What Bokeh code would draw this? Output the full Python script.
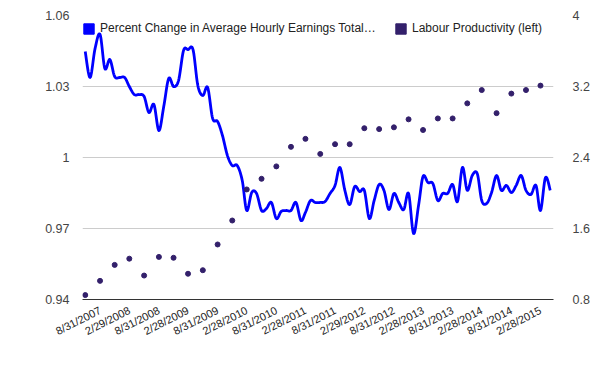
import numpy as np
import pandas as pd
from bokeh.plotting import figure
from bokeh.models import (Range1d, LinearAxis, FixedTicker, Legend, LegendItem,
                          ColumnDataSource)
from bokeh.embed import file_html
from bokeh.resources import INLINE

# ---------------- data ----------------
series_names = ["Percent Change in Average Hourly Earnings Total\u2026",
                "Labour Productivity (left)"]

earnings_start = "2007-05-31"          # monthly, month-end
earnings_change = [
    1.0448, 1.0338, 1.0460, 1.0520, 1.0376, 1.0414, 1.0342, 1.0338, 1.0338, 1.0300,
    1.0266, 1.0266, 1.0258, 1.0190, 1.0224, 1.0114, 1.0215, 1.0334, 1.0300, 1.0325,
    1.0452, 1.0456, 1.0456, 1.0304, 1.0262, 1.0296, 1.0165, 1.0152, 1.0093, 1.0008,
    0.9966, 0.9966, 0.9903, 0.9776, 0.9852, 0.9848, 0.9776, 0.9784, 0.9810, 0.9742,
    0.9772, 0.9776, 0.9776, 0.9810, 0.9734, 0.9768, 0.9818, 0.9810, 0.9810, 0.9814,
    0.9848, 0.9882, 0.9958, 0.9861, 0.9801, 0.9877, 0.9856, 0.9861, 0.9742, 0.9818,
    0.9886, 0.9861, 0.9780, 0.9848, 0.9810, 0.9780, 0.9848, 0.9679, 0.9797, 0.9920,
    0.9894, 0.9890, 0.9818, 0.9848, 0.9848, 0.9886, 0.9814, 0.9958, 0.9861, 0.9924,
    0.9932, 0.9818, 0.9806, 0.9852, 0.9924, 0.9861, 0.9882, 0.9852, 0.9882, 0.9924,
    0.9861, 0.9844, 0.9882, 0.9776, 0.9915, 0.9861,
]

productivity_start = "2007-05-31"      # quarterly, quarter-end
labour_productivity = [
    0.85, 1.01, 1.19, 1.26, 1.07, 1.28, 1.27, 1.09, 1.13, 1.42,
    1.69, 2.04, 2.16, 2.30, 2.52, 2.61, 2.44, 2.55, 2.55, 2.73,
    2.72, 2.74, 2.83, 2.71, 2.84, 2.84, 3.01, 3.16, 2.90, 3.12,
    3.16, 3.21,
]

x_tick_labels = ["8/31/2007", "2/29/2008", "8/31/2008", "2/28/2009", "8/31/2009",
                 "2/28/2010", "8/31/2010", "2/28/2011", "8/31/2011", "2/29/2012",
                 "8/31/2012", "2/28/2013", "8/31/2013", "2/28/2014", "8/31/2014",
                 "2/28/2015"]
left_ticks = [0.94, 0.97, 1.0, 1.03, 1.06]
left_tick_labels = ["0.94", "0.97", "1", "1.03", "1.06"]
right_ticks = [0.8, 1.6, 2.4, 3.2, 4.0]
right_tick_labels = ["0.8", "1.6", "2.4", "3.2", "4"]

x_start, x_end = "2007-05-14", "2015-05-20"

# ---------------- helpers ----------------
def to_ms(d):
    return (pd.DatetimeIndex(d).values.astype("datetime64[ms]").astype(np.int64)).astype(float)

def catmull_rom(xs, ys, n=12):
    xs = np.asarray(xs, float); ys = np.asarray(ys, float)
    px = np.concatenate([[xs[0]], xs, [xs[-1]]])
    py = np.concatenate([[ys[0]], ys, [ys[-1]]])
    t = np.linspace(0, 1, n, endpoint=False)
    ox, oy = [], []
    for i in range(1, len(px) - 2):
        for arr, out in ((px, ox), (py, oy)):
            p0, p1, p2, p3 = arr[i - 1], arr[i], arr[i + 1], arr[i + 2]
            out.extend(0.5 * (2 * p1 + (-p0 + p2) * t
                              + (2 * p0 - 5 * p1 + 4 * p2 - p3) * t ** 2
                              + (-p0 + 3 * p1 - 3 * p2 + p3) * t ** 3))
    ox.append(xs[-1]); oy.append(ys[-1])
    return np.array(ox), np.array(oy)

line_dates = pd.date_range(earnings_start, periods=len(earnings_change), freq=pd.offsets.MonthEnd())
dot_dates = pd.date_range(productivity_start, periods=len(labour_productivity), freq=pd.offsets.MonthEnd(3))
line_x = to_ms(line_dates)
dot_x = to_ms(dot_dates)
sx, sy = catmull_rom(line_x, earnings_change)
tick_x = to_ms(pd.to_datetime(x_tick_labels, format="%m/%d/%Y"))

FONT = "Liberation Sans"
BLUE = "#0000ff"
PURPLE = "#33206b"

p = figure(width=600, height=371, output_backend="svg", toolbar_location=None,
           x_range=Range1d(to_ms([x_start])[0], to_ms([x_end])[0]),
           y_range=Range1d(left_ticks[0], left_ticks[-1]),
           min_border_left=82, min_border_right=47, min_border_top=15, min_border_bottom=72)
p.outline_line_color = None
p.background_fill_color = "white"
p.border_fill_color = "white"
p.extra_y_ranges = {"right": Range1d(right_ticks[0], right_ticks[-1])}

p.xgrid.visible = False
p.ygrid.ticker = FixedTicker(ticks=left_ticks)
p.ygrid.grid_line_color = "#cccccc"
p.ygrid.grid_line_width = 1

# x axis
xa = p.xaxis[0]
xa.ticker = FixedTicker(ticks=list(tick_x))
xa.major_label_overrides = {float(k): v for k, v in zip(tick_x, x_tick_labels)}
xa.major_label_orientation = 0.47
xa.axis_line_color = "#333333"
xa.major_tick_line_color = None
xa.minor_tick_line_color = None
xa.major_label_text_font = FONT
xa.major_label_text_font_size = "11px"
xa.major_label_text_color = "#222222"
xa.major_label_standoff = 4

# left axis
ya = p.yaxis[0]
ya.ticker = FixedTicker(ticks=left_ticks)
ya.major_label_overrides = {float(k): v for k, v in zip(left_ticks, left_tick_labels)}
ya.axis_line_color = None
ya.major_tick_line_color = None
ya.minor_tick_line_color = None
ya.major_label_text_font = FONT
ya.major_label_text_font_size = "12.5px"
ya.major_label_text_color = "#444444"
ya.major_label_standoff = 7

# right axis
ra = LinearAxis(y_range_name="right", ticker=FixedTicker(ticks=right_ticks))
ra.major_label_overrides = {float(k): v for k, v in zip(right_ticks, right_tick_labels)}
ra.axis_line_color = None
ra.major_tick_line_color = None
ra.minor_tick_line_color = None
ra.major_label_text_font = FONT
ra.major_label_text_font_size = "12.5px"
ra.major_label_text_color = "#444444"
ra.major_label_standoff = 13
p.add_layout(ra, "right")

# series
p.line(sx, sy, line_color=BLUE, line_width=2.8, line_join="round")
p.scatter(dot_x, labour_productivity, y_range_name="right", size=5,
          fill_color=PURPLE, line_color=PURPLE)

# legend (square swatches; renderers hold no visible marks)
blank = dict(left=[np.nan], right=[np.nan], top=[np.nan], bottom=[np.nan])
sw1 = p.quad(source=ColumnDataSource(blank), left="left", right="right", top="top",
             bottom="bottom", fill_color=BLUE, line_color=BLUE)
sw2 = p.quad(source=ColumnDataSource(dict(blank)), left="left", right="right", top="top",
             bottom="bottom", fill_color=PURPLE, line_color=PURPLE)

def make_legend(label, r, loc):
    return Legend(items=[LegendItem(label=label, renderers=[r])], location=loc,
                  orientation="horizontal", glyph_width=13, glyph_height=13,
                  label_height=13, label_standoff=5, padding=0, margin=0,
                  background_fill_alpha=0, border_line_color=None,
                  label_text_font=FONT, label_text_font_size="12px",
                  label_text_color="#222222")

p.add_layout(make_legend(series_names[0], sw1, (0, 264)))
p.add_layout(make_legend(series_names[1], sw2, (312, 264)))

open("out.html", "w").write(file_html(p, INLINE))
